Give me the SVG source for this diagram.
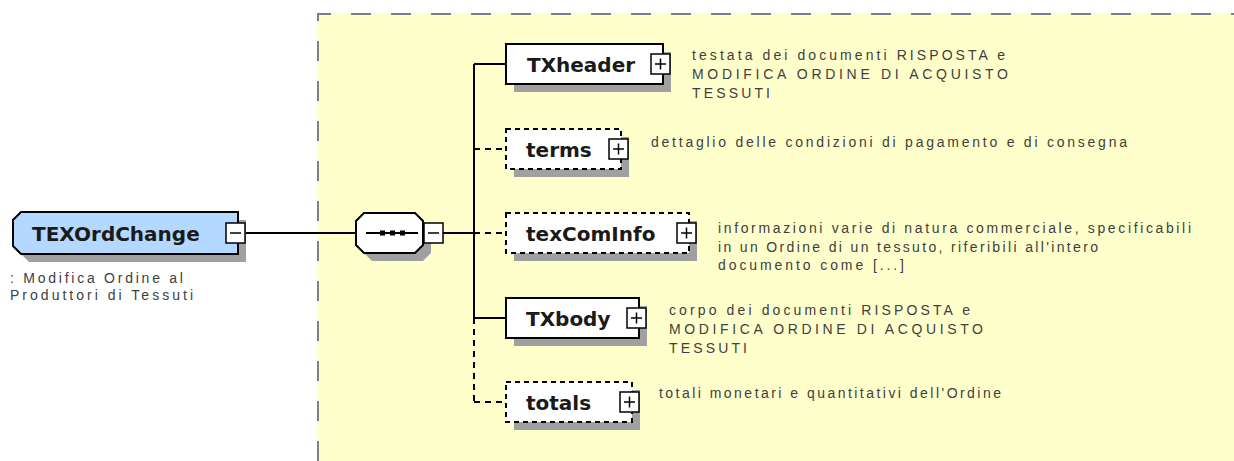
<svg xmlns="http://www.w3.org/2000/svg" xmlns:xlink="http://www.w3.org/1999/xlink" width="1234" height="461" viewBox="0 0 1234 461">
<style>
.bg{fill:#ffffcc}
.bgline{fill:none;stroke:#808080;stroke-width:2;stroke-dasharray:20 20}
.box{fill:#fff;stroke:#000;stroke-width:2}
.opt{stroke-dasharray:5 4}
.shadow{fill:#a0a0a0}
.lbl{font-family:"DejaVu Sans",Verdana,sans-serif;font-weight:bold;font-size:20px;fill:#1a1a1a}
.desc{font-family:"Liberation Sans",Arial,sans-serif;font-size:14px;fill:#404040}
.pm{fill:#fff;stroke:#000;stroke-width:1.5}
.pmline{stroke:#000;stroke-width:1.5}
.conn{fill:none;stroke:#000;stroke-width:2}
.dash{stroke-dasharray:6 5}
</style>
<defs>
<g id="plus">
<rect class="pm" x="0" y="0" width="19" height="20"/>
<path class="pmline" d="M4,10H15M9.5,4.5V15.5"/>
</g>
<g id="minus">
<rect class="pm" x="0" y="0" width="19" height="20"/>
<path class="pmline" d="M4,10H15"/>
</g>
</defs>

<rect class="bg" x="318" y="14" width="916" height="447"/>
<path class="bgline" d="M318,461V14H1234"/>

<g id="connectors">
<path class="conn" d="M245,233H356"/>
<path class="conn" d="M443,233H474"/>
<path class="conn" d="M474,64V318"/>
<path class="conn dash" d="M474,318V402"/>
<path class="conn" d="M474,64H506"/>
<path class="conn dash" d="M474,149H506"/>
<path class="conn dash" d="M474,233H506"/>
<path class="conn" d="M474,318H506"/>
<path class="conn dash" d="M474,402H506"/>
</g>

<g id="TEXOrdChange">
<path class="shadow" d="M29,220H246V262H29L21,254V228Z"/>
<path d="M21,212H238V254H21L13,246V220Z" fill="#b4d8ff" stroke="#000" stroke-width="2"/>
<text class="lbl" x="32" y="241">TEXOrdChange</text>
<use xlink:href="#minus" x="226" y="223"/>
<text class="desc" x="10" y="283" textLength="173" lengthAdjust="spacing">: Modifica Ordine al</text>
<text class="desc" x="10" y="300" textLength="183" lengthAdjust="spacing">Produttori di Tessuti</text>
</g>

<g id="sequence">
<path class="shadow" d="M372,221H423L431,229V253L423,261H372L364,253V229Z"/>
<path class="box" d="M364,213H415L423,221V245L415,253H364L356,245V221Z"/>
<path class="conn" d="M366,233H418"/>
<rect x="380" y="230.5" width="5" height="5" fill="#000"/>
<rect x="390" y="230.5" width="5" height="5" fill="#000"/>
<rect x="400" y="230.5" width="5" height="5" fill="#000"/>
<use xlink:href="#minus" x="424" y="223"/>
</g>

<g id="TXheader">
<rect class="shadow" x="514" y="52" width="157" height="40"/>
<rect class="box" x="506" y="44" width="157" height="40"/>
<text class="lbl" x="527" y="72">TXheader</text>
<use xlink:href="#plus" x="651" y="54"/>
<text class="desc" x="692" y="60" textLength="313" lengthAdjust="spacing">testata dei documenti RISPOSTA e</text>
<text class="desc" x="692" y="79" textLength="316" lengthAdjust="spacing">MODIFICA ORDINE DI ACQUISTO</text>
<text class="desc" x="692" y="98" textLength="78" lengthAdjust="spacing">TESSUTI</text>
</g>

<g id="terms">
<rect class="shadow" x="514" y="137" width="115" height="40"/>
<rect class="box opt" x="506" y="129" width="115" height="40"/>
<text class="lbl" x="526" y="157">terms</text>
<use xlink:href="#plus" x="609" y="139"/>
<text class="desc" x="651" y="147" textLength="476" lengthAdjust="spacing">dettaglio delle condizioni di pagamento e di consegna</text>
</g>

<g id="texComInfo">
<rect class="shadow" x="514" y="221" width="183" height="40"/>
<rect class="box opt" x="506" y="213" width="183" height="40"/>
<text class="lbl" x="526" y="241">texComInfo</text>
<use xlink:href="#plus" x="677" y="223"/>
<text class="desc" x="718" y="233" textLength="473" lengthAdjust="spacing">informazioni varie di natura commerciale, specificabili</text>
<text class="desc" x="718" y="252" textLength="380" lengthAdjust="spacing">in un Ordine di un tessuto, riferibili all'intero</text>
<text class="desc" x="718" y="270" textLength="186" lengthAdjust="spacing">documento come [...]</text>
</g>

<g id="TXbody">
<rect class="shadow" x="514" y="306" width="133" height="40"/>
<rect class="box" x="506" y="298" width="133" height="40"/>
<text class="lbl" x="526" y="326">TXbody</text>
<use xlink:href="#plus" x="627" y="308"/>
<text class="desc" x="669" y="315" textLength="301" lengthAdjust="spacing">corpo dei documenti RISPOSTA e</text>
<text class="desc" x="669" y="334" textLength="314" lengthAdjust="spacing">MODIFICA ORDINE DI ACQUISTO</text>
<text class="desc" x="669" y="353" textLength="78" lengthAdjust="spacing">TESSUTI</text>
</g>

<g id="totals">
<rect class="shadow" x="514" y="390" width="126" height="40"/>
<rect class="box opt" x="506" y="382" width="126" height="40"/>
<text class="lbl" x="526" y="410">totals</text>
<use xlink:href="#plus" x="620" y="392"/>
<text class="desc" x="659" y="398" textLength="342" lengthAdjust="spacing">totali monetari e quantitativi dell'Ordine</text>
</g>
</svg>
